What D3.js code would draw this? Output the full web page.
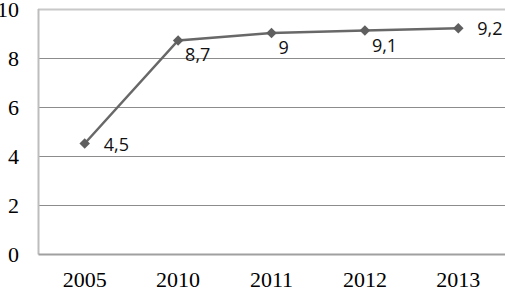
<!doctype html>
<html>
  <head>
    <script src="https://d3js.org/d3.v7.min.js"></script>
    <style>
      body { margin: 0; background: #fff; }
      .tick text { font-family: "Liberation Serif", "Times New Roman", serif; font-size: 22px; fill: #000; }
      .lbl { font-family: "Open Sans", sans-serif; font-size: 18px; fill: #111; }
    </style>
  </head>
  <body>
    <div id="chart"></div>
    <script>
      // data
      var years = ["2005", "2010", "2011", "2012", "2013"];
      var values = [4.5, 8.7, 9, 9.1, 9.2];
      var valueLabels = ["4,5", "8,7", "9", "9,1", "9,2"];
      var yTicks = [0, 2, 4, 6, 8, 10];

      var width = 505, height = 288;
      var plotLeft = 38, plotRight = 505, plotTop = 8.5, plotBottom = 254;

      var svg = d3.select("#chart").append("svg")
        .attr("width", width)
        .attr("height", height);

      var x = d3.scaleBand().domain(years).range([plotLeft, plotRight]);
      var y = d3.scaleLinear().domain([0, 10]).range([plotBottom, plotTop]);

      // gridlines
      svg.append("g").selectAll("line")
        .data(yTicks.filter(function(d) { return d > 0; }))
        .enter().append("line")
        .attr("x1", plotLeft).attr("x2", plotRight)
        .attr("y1", function(d) { return Math.round(y(d)) + 0.5; })
        .attr("y2", function(d) { return Math.round(y(d)) + 0.5; })
        .attr("stroke", function(d) { return d == 10 ? "#c8c8c8" : "#8c8c8c"; })
        .attr("stroke-width", function(d) { return d == 10 ? 2 : 1; });

      // y axis
      var yAxis = svg.append("g")
        .attr("transform", "translate(" + plotLeft + ",0)")
        .call(d3.axisLeft(y).tickValues(yTicks).tickSize(0).tickPadding(19));
      yAxis.select(".domain").attr("stroke", "#bdbdbd").attr("stroke-width", 2);
      yAxis.selectAll(".tick text").attr("dy", "0.35em");

      // x axis
      var xAxis = svg.append("g")
        .attr("transform", "translate(0," + plotBottom + ")")
        .call(d3.axisBottom(x).tickSize(0).tickPadding(17));
      xAxis.select(".domain").attr("stroke", "#a0a0a0").attr("stroke-width", 2);

      var cx = function(d, i) { return x(years[i]) + x.bandwidth() / 2; };

      // line
      var line = d3.line()
        .x(function(d, i) { return cx(d, i); })
        .y(function(d) { return y(d); });

      svg.append("path")
        .datum(values)
        .attr("d", line)
        .attr("fill", "none")
        .attr("stroke", "#686868")
        .attr("stroke-width", 2.5);

      // diamond markers
      svg.append("g").selectAll("path")
        .data(values)
        .enter().append("path")
        .attr("d", d3.symbol().type(d3.symbolDiamond2).size(70))
        .attr("transform", function(d, i) { return "translate(" + cx(d, i) + "," + y(d) + ")"; })
        .attr("fill", "#5f5f5f");

      // data labels (right of point, or below-right when the next segment is near)
      var place = ["right", "below", "below", "below", "right"];
      svg.append("g").selectAll("text")
        .data(values)
        .enter().append("text")
        .attr("class", "lbl")
        .attr("x", function(d, i) { return cx(d, i) + (place[i] == "right" ? 19 : 7); })
        .attr("y", function(d, i) { return y(d) + (place[i] == "right" ? 7 : 21); })
        .text(function(d, i) { return valueLabels[i]; });
    </script>
  </body>
</html>
